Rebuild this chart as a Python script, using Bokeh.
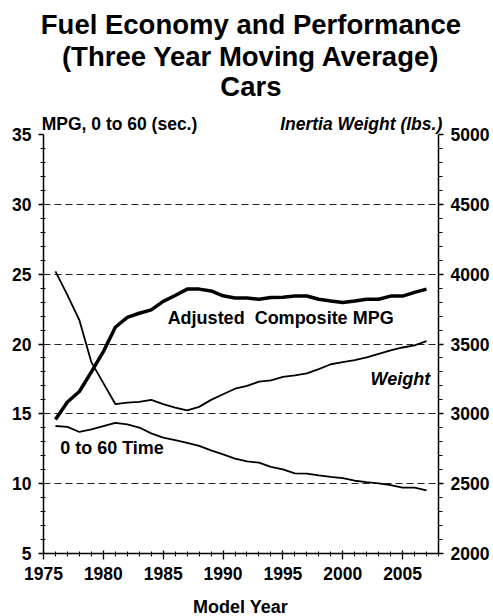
from bokeh.plotting import figure
from bokeh.models import Range1d, LinearAxis, FixedTicker, Label, ColumnDataSource
from bokeh.embed import file_html
from bokeh.resources import INLINE

years = [1976, 1977, 1978, 1979, 1980, 1981, 1982, 1983, 1984, 1985, 1986,
         1987, 1988, 1989, 1990, 1991, 1992, 1993, 1994, 1995, 1996, 1997,
         1998, 1999, 2000, 2001, 2002, 2003, 2004, 2005, 2006, 2007]
mpg = [14.6, 15.85, 16.6, 18.0, 19.45, 21.2, 21.9, 22.2, 22.44, 23.05, 23.47,
       23.93, 23.93, 23.8, 23.45, 23.3, 23.3, 23.2, 23.33, 23.35, 23.44, 23.44,
       23.2, 23.08, 22.97, 23.08, 23.2, 23.2, 23.43, 23.43, 23.7, 23.93]
time_0_60 = [14.13, 14.07, 13.7, 13.88, 14.12, 14.35, 14.24, 14.02, 13.6, 13.3,
             13.11, 12.92, 12.7, 12.39, 12.1, 11.8, 11.6, 11.5, 11.2, 11.02,
             10.74, 10.72, 10.6, 10.49, 10.4, 10.21, 10.11, 10.02, 9.9, 9.72,
             9.72, 9.52]
weight = [4020, 3850, 3670, 3370, 3220, 3070, 3080, 3085, 3100, 3070, 3045,
          3025, 3050, 3100, 3140, 3180, 3200, 3230, 3240, 3265, 3275, 3290,
          3320, 3355, 3370, 3385, 3405, 3430, 3455, 3475, 3490, 3520]

x_ticks = [1975, 1980, 1985, 1990, 1995, 2000, 2005]
x_minor = [1976, 1977, 1978, 1979, 1981, 1982, 1983, 1984, 1986, 1987, 1988,
           1989, 1991, 1992, 1993, 1994, 1996, 1997, 1998, 1999, 2001, 2002,
           2003, 2004, 2006, 2007, 2008]
left_ticks = [5, 10, 15, 20, 25, 30, 35]
left_minor = [6, 7, 8, 9, 11, 12, 13, 14, 16, 17, 18, 19, 21, 22, 23, 24,
              26, 27, 28, 29, 31, 32, 33, 34]
right_ticks = [2000, 2500, 3000, 3500, 4000, 4500, 5000]
right_minor = [2100, 2200, 2300, 2400, 2600, 2700, 2800, 2900, 3100, 3200,
               3300, 3400, 3600, 3700, 3800, 3900, 4100, 4200, 4300, 4400,
               4600, 4700, 4800, 4900]

title_lines = ["Fuel Economy and Performance", "(Three Year Moving Average)", "Cars"]

FONT = "Liberation Sans"

p = figure(width=493, height=616, output_backend="svg", toolbar_location=None,
           x_range=Range1d(1975, 2008), y_range=Range1d(5, 35),
           min_border_left=43, min_border_right=55, min_border_top=134,
           min_border_bottom=63, outline_line_color=None)
p.extra_y_ranges = {"w": Range1d(2000, 5000)}

src = ColumnDataSource(dict(year=years, mpg=mpg, t=time_0_60, w=weight))
p.line("year", "mpg", source=src, line_color="black", line_width=3.5)
p.line("year", "t", source=src, line_color="black", line_width=1.8)
p.line("year", "w", source=src, line_color="black", line_width=1.8, y_range_name="w")

# axes
xa = p.xaxis[0]
xa.ticker = FixedTicker(ticks=x_ticks, minor_ticks=x_minor)

ya = p.yaxis[0]
ya.ticker = FixedTicker(ticks=left_ticks, minor_ticks=left_minor)

ra = LinearAxis(y_range_name="w", ticker=FixedTicker(ticks=right_ticks, minor_ticks=right_minor))
p.add_layout(ra, "right")

for ax in [xa, ya, ra]:
    ax.major_label_text_font = FONT
    ax.major_label_text_font_style = "bold"
    ax.major_label_text_font_size = "17.5px"
    ax.major_label_text_color = "black"
    ax.axis_line_color = "black"
    ax.axis_line_width = 1.5
    ax.major_tick_line_color = "black"
    ax.minor_tick_line_color = "black"
    ax.major_tick_line_width = 1.3
    ax.minor_tick_line_width = 1.0
    ax.major_label_standoff = 7

xa.major_tick_out = 6
xa.major_tick_in = 3
xa.minor_tick_out = 3
xa.minor_tick_in = 2
ya.major_tick_out = 5
ya.major_tick_in = 0
ya.minor_tick_out = 3
ya.minor_tick_in = 2
ra.major_tick_out = 5
ra.major_tick_in = 0
ra.minor_tick_out = 4
ra.minor_tick_in = 0

p.xgrid.grid_line_color = None
p.ygrid.ticker = FixedTicker(ticks=left_ticks)
p.ygrid.grid_line_color = "#222222"
p.ygrid.grid_line_dash = "7 4"
p.ygrid.grid_line_width = 1.2

# titles and axis headings: labels in the side panels so they are not clipped
title_y = [42.90, 40.56, 38.45]
for txt, ty in zip(title_lines, title_y):
    p.add_layout(Label(x=1992.33, y=ty, text=txt, text_align="center",
                       text_baseline="alphabetic", text_font=FONT,
                       text_font_size="27.5px", text_font_style="bold",
                       text_color="black"), "above")

p.add_layout(Label(x=1974.85, y=35.75, text="MPG, 0 to 60 (sec.)", text_align="left",
                   text_baseline="alphabetic", text_font=FONT, text_font_size="17.5px",
                   text_font_style="bold", text_color="black"), "above")
p.add_layout(Label(x=2008.31, y=35.75, text="Inertia Weight (lbs.)", text_align="right",
                   text_baseline="alphabetic", text_font=FONT, text_font_size="17.5px",
                   text_font_style="bold italic", text_color="black"), "above")

p.add_layout(Label(x=1991.46, y=1.134, text="Model Year", text_align="center",
                   text_baseline="alphabetic", text_font=FONT, text_font_size="18px",
                   text_font_style="bold", text_color="black"), "below")

# series labels
p.add_layout(Label(x=1985.37, y=21.83, text="Adjusted\u00a0 Composite MPG", text_align="left",
                   text_baseline="alphabetic", text_font=FONT, text_font_size="18px",
                   text_font_style="bold", text_color="black"))
p.add_layout(Label(x=2007.3, y=17.47, text="Weight", text_align="right",
                   text_baseline="alphabetic", text_font=FONT, text_font_size="18px",
                   text_font_style="bold italic", text_color="black"))
p.add_layout(Label(x=1976.39, y=12.52, text="0 to 60 Time", text_align="left",
                   text_baseline="alphabetic", text_font=FONT, text_font_size="18px",
                   text_font_style="bold", text_color="black"))

open("out.html", "w").write(file_html(p, INLINE))
